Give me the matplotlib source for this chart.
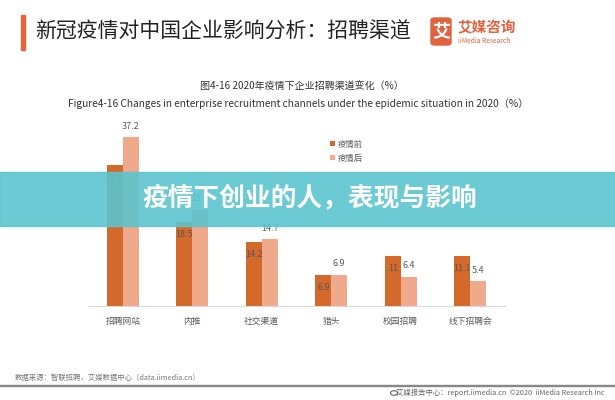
import matplotlib.pyplot as plt
from matplotlib.patches import Rectangle, FancyBboxPatch, Circle
import numpy as np

plt.rcParams['font.family'] = ['Noto Sans CJK SC', 'DejaVu Sans']

# 数据
categorias = ["招聘网站", "内推", "社交渠道", "猎头", "校园招聘", "线下招聘会"]
antes = [31.1, 18.5, 14.2, 6.9, 11, 11.1]      # 疫情前
depois = [37.2, 21.2, 14.7, 6.9, 6.4, 5.4]     # 疫情后
series = ["疫情前", "疫情后"]

cor_escura = "#D3692A"
cor_clara = "#F0A98B"
cinza = "#595959"

fig = plt.figure(figsize=(6.15, 4.0), dpi=100)
W, H = 615, 400

# Cabeçalho
fig.add_artist(Rectangle((21 / W, 1 - 50 / H), 4 / W, 35 / H, color="#E8643C",
                         transform=fig.transFigure))
fig.text(35 / W, 1 - 32 / H, "新冠疫情对中国企业影响分析：招聘渠道", fontsize=15,
         color="#222222", va="center")
fig.add_artist(FancyBboxPatch((431 / W, 1 - 45 / H), 20 / W, 27 / H,
                              boxstyle="round,pad=0,rounding_size=0.006",
                              color="#E0623F", transform=fig.transFigure))
fig.text(441 / W, 1 - 31 / H, "艾", fontsize=13, color="white", weight="bold",
         ha="center", va="center")
fig.text(458 / W, 1 - 27 / H, "艾媒咨询", fontsize=10.5, color="#E0623F",
         weight="bold", va="center")
fig.text(458 / W, 1 - 41 / H, "iiMedia Research", fontsize=4.8, color="#E0623F",
         va="center")

# Títulos do gráfico
fig.text(302 / W, 1 - 87 / H, "图4-16 2020年疫情下企业招聘渠道变化（%）", fontsize=7.2,
         color="#333333", ha="center", va="center")
fig.text(298 / W, 1 - 104 / H,
         "Figure4-16 Changes in enterprise recruitment channels under the epidemic situation in 2020（%）",
         fontsize=7.3, color="#333333", ha="center", va="center")

# Gráfico de barras
ax = fig.add_axes([88 / W, 1 - 306 / H, 417 / W, 181.6 / H])
x = np.arange(len(categorias))
larg = 0.23
ax.bar(x - larg / 2, antes, larg, color=cor_escura, label=series[0])
ax.bar(x + larg / 2, depois, larg, color=cor_clara, label=series[1])
ax.set_xlim(-0.5, len(categorias) - 0.5)
ax.set_ylim(0, 40)

for xi, v in zip(x, antes):
    ax.annotate(f"{v:g}", (xi - larg / 2, v), xytext=(0, -9), textcoords="offset points",
                ha="center", va="center", fontsize=6.5, color=cinza)
for xi, v in zip(x, depois):
    ax.annotate(f"{v:g}", (xi + larg / 2, v), xytext=(0, 8), textcoords="offset points",
                ha="center", va="center", fontsize=6.5, color=cinza)

ax.set_yticks([])
ax.set_xticks(x)
ax.set_xticklabels(categorias, fontsize=6.3, color=cinza)
ax.tick_params(axis="x", length=0, pad=8)
for lado in ["top", "left", "right"]:
    ax.spines[lado].set_visible(False)
ax.spines["bottom"].set_color("#D9D9D9")

fig.legend(loc="upper left", bbox_to_anchor=(323 / W, 1 - 132 / H), frameon=False,
           fontsize=6, handlelength=0.6, handleheight=0.6, handletextpad=0.3,
           labelspacing=0.6, labelcolor=cinza)

# Faixa azul por cima
fig.add_artist(Rectangle((0, 1 - 226 / H), 1, 54 / H, color="#5BC5CF", alpha=0.9,
                         transform=fig.transFigure, zorder=5))
fig.text(310 / W, 1 - 199 / H, "疫情下创业的人，表现与影响", fontsize=18.5, color="white",
         weight="bold", ha="center", va="center", zorder=6)

# Rodapé
fig.text(15 / W, 1 - 378 / H, "数据来源：智联招聘，艾媒数据中心（data.iimedia.cn）",
         fontsize=5.3, color="#777777", va="center")
fig.add_artist(Rectangle((0, 1 - 386 / H), 1, 1.2 / H, color="#888888",
                         transform=fig.transFigure))
fig.add_artist(Circle((394 / W, 1 - 393 / H), 3.5 / W, fill=False, lw=0.8,
                      color="#666666", transform=fig.transFigure))
fig.text(605 / W, 1 - 393 / H, "艾媒报告中心：report.iimedia.cn  ©2020  iiMedia Research Inc",
         fontsize=5.3, color="#666666", ha="right", va="center")

fig.savefig("out.png", dpi=100)
